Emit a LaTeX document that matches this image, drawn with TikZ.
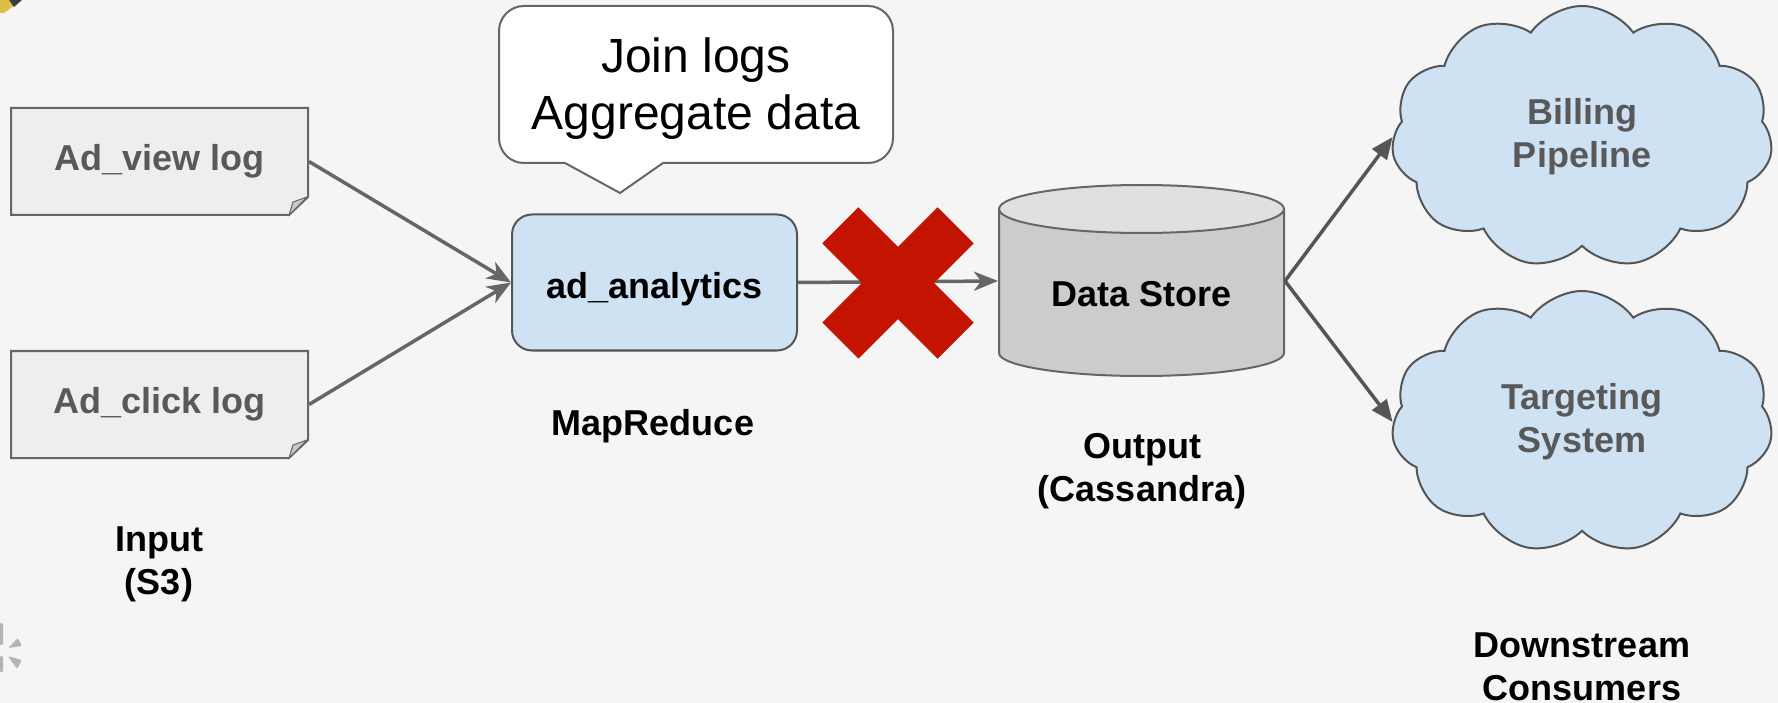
\documentclass[tikz,border=0pt]{standalone}
\usepackage{fontspec}
\setmainfont{Liberation Sans}
\usetikzlibrary{arrows.meta,shapes.symbols}
\definecolor{bggray}{RGB}{245,245,245}
\definecolor{docfill}{RGB}{238,238,238}
\definecolor{foldfill}{RGB}{200,200,200}
\definecolor{edgegray}{RGB}{102,102,102}
\definecolor{darkedge}{RGB}{85,85,85}
\definecolor{labelgray}{RGB}{89,89,89}
\definecolor{jobblue}{RGB}{207,226,243}
\definecolor{storebody}{RGB}{204,204,204}
\definecolor{storetop}{RGB}{224,224,224}
\definecolor{crossred}{RGB}{194,20,0}
\definecolor{logoyellow}{RGB}{222,190,70}
\definecolor{logodark}{RGB}{60,60,60}
\definecolor{logogray}{RGB}{180,180,180}
\tikzset{every picture/.style={line width=2pt}}
\tikzset{
  lbl/.style={font=\fontsize{36}{43}\selectfont\bfseries, align=center, inner sep=0pt},
  doclbl/.style={lbl, text=labelgray, minimum width=297pt, minimum height=107pt},
  jobbox/.style={lbl, draw=darkedge, fill=jobblue, rounded corners=20pt, text height=40pt, minimum width=285pt, minimum height=136pt},
  consumer/.style={lbl, text=labelgray, cloud, cloud puffs=11, cloud puff arc=110, aspect=1.45, draw=darkedge, fill=jobblue, minimum width=381pt, minimum height=262pt},
  flow/.style={draw=edgegray, line width=3.5pt, -{Stealth[length=24pt, width=19pt, inset=7pt]}},
  feed/.style={draw=darkedge, line width=3.5pt, -{Triangle[length=22pt, width=18pt]}},
}

\begin{document}
\begin{tikzpicture}[x=1pt,y=1pt,yscale=-1,xscale=1]
\useasboundingbox (0,0) rectangle (1778,703);
\fill[bggray] (0,0) rectangle (1778,703);

%Shape: logo bits at the corners
\fill[logoyellow] (0,0) -- (9,0) -- (15,5) -- (4,13) -- (0,13) -- cycle;
\fill[logodark] (9,0) -- (22,0) -- (14,7) -- cycle;
\fill[logogray, rounded corners=1pt] (0,623) rectangle (3,645);
\fill[logogray, rounded corners=1pt] (0,656) rectangle (3,672);
\fill[logogray, rounded corners=2pt] (8,648) -- (18,638) -- (22,646) -- cycle;
\fill[logogray, rounded corners=2pt] (8,656) -- (22,660) -- (17,669) -- cycle;

%Shape: log files
\filldraw[fill=docfill, draw=edgegray] (11,108) -- (308,108) -- (308,197) -- (289,215) -- (11,215) -- cycle;
\filldraw[fill=foldfill, draw=edgegray, line width=1pt] (289,215) -- (293,202) -- (307,197) -- cycle;
\filldraw[fill=docfill, draw=edgegray] (11,351) -- (308,351) -- (308,440) -- (289,458) -- (11,458) -- cycle;
\filldraw[fill=foldfill, draw=edgegray, line width=1pt] (289,458) -- (293,445) -- (307,440) -- cycle;

%Shape: callout
\filldraw[fill=white, draw=edgegray] (620,193) -- (663,163) [rounded corners=25pt]-- (893,163) -- (893,6) -- (499,6) -- (499,163) [sharp corners]-- (565,163) -- cycle;

%Shape: cylinder
\filldraw[fill=storebody, draw=edgegray] (999,209) -- (999,353) arc[start angle=180, end angle=0, x radius=142.5, y radius=23] -- (1284,209);
\filldraw[fill=storetop, draw=edgegray] (1141.5,209) ellipse [x radius=142.5, y radius=24];

% Text Node
\node[doclbl] (view) at (159.5,161.5) {Ad\_view log};
\node[doclbl] (click) at (159.5,404.5) {Ad\_click log};
\node[lbl] (input) at (159,564) {Input\\(S3)};
\node[font=\fontsize{48}{57}\selectfont, align=center, inner sep=0pt] (note) at (696,89) {Join logs\\Aggregate data};
\node[jobbox] (ad) at (654.5,282.5) {ad\_analytics};
\node[lbl] (mr) at (653,426) {MapReduce};
\node[lbl, minimum width=285pt] (store) at (1141.5,294) {Data Store};
\node[lbl] (output) at (1142,471) {Output\\(Cassandra)};
\node[consumer] (billing) at (1582,137) {Billing\\Pipeline};
\node[consumer] (target) at (1582,422) {Targeting\\System};
\node[lbl] (down) at (1582,667) {Downstream\\Consumers};

%Straight Lines
\draw[flow] (view.east) -- (ad.west);
\draw[flow] (click.east) -- (ad.west);
\draw[flow] (ad.east) -- ([yshift=-13pt]store.west);
\draw[feed] ([yshift=-13pt]store.east) -- (billing.west);
\draw[feed] ([yshift=-13pt]store.east) -- (target.west);

%Shape: red cross
\fill[crossred, rotate around={45:(898,283)}] (816.5,257.5) rectangle (979.5,308.5);
\fill[crossred, rotate around={-45:(898,283)}] (816.5,257.5) rectangle (979.5,308.5);

\end{tikzpicture}
\end{document}
